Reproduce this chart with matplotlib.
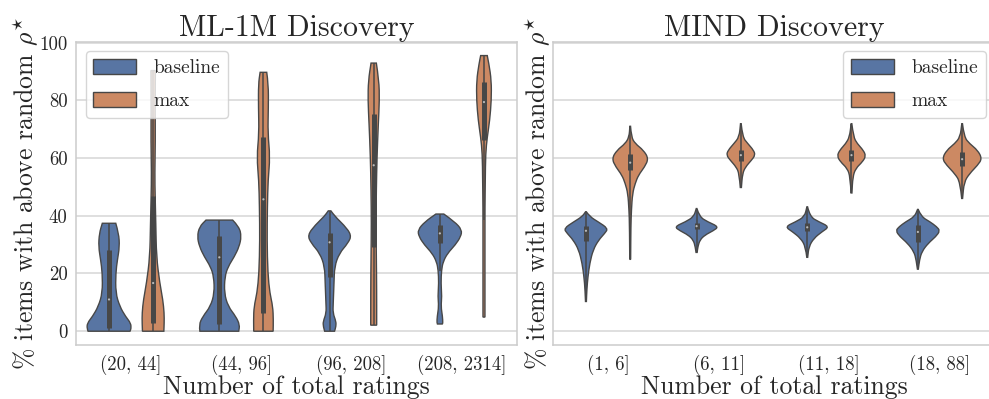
import matplotlib
matplotlib.use("Agg")
import matplotlib.pyplot as plt
from matplotlib.path import Path
from matplotlib.patches import PathPatch, Patch

plt.rcParams['font.family'] = 'serif'
plt.rcParams['font.serif'] = ['cmr10']
plt.rcParams['mathtext.fontset'] = 'cm'
plt.rcParams['axes.unicode_minus'] = False

hues = ['baseline', 'max']
ml_bins = ['(20, 44]', '(44, 96]', '(96, 208]', '(208, 2314]']
mind_bins = ['(1, 6]', '(6, 11]', '(11, 18]', '(18, 88]']

# violin outlines: (value, half width in category units), bottom to top
ml_base_dens = [
    [(0, 0.19), (0.9, 0.2), (2.8, 0.197), (5.1, 0.15), (8.6, 0.097), (13.3, 0.06), (20.2, 0.061),
     (24.7, 0.076), (29.3, 0.095), (33.9, 0.088), (37.4, 0.061)],
    [(0, 0.176), (2.2, 0.185), (5.1, 0.15), (8.6, 0.08), (13.2, 0.045), (18.9, 0.05), (22.4, 0.08),
     (25.8, 0.136), (29.3, 0.18), (32.8, 0.2), (36.2, 0.18), (38.5, 0.121)],
    [(0, 0.045), (1.7, 0.058), (3.4, 0.058), (6.3, 0.03), (9.7, 0.033), (16.6, 0.04), (22.4, 0.045),
     (27, 0.088), (30.5, 0.167), (33.3, 0.2), (36.8, 0.13), (39.7, 0.05), (41.7, 0.012)],
    [(2.5, 0.022), (2.8, 0.027), (5.1, 0.024), (8.6, 0.01), (12, 0.018), (16.6, 0.01), (21.2, 0.015),
     (24.1, 0.03), (27, 0.07), (29.9, 0.14), (32.8, 0.19), (35.1, 0.2), (37.9, 0.136), (40.6, 0.036)],
]
ml_max_dens = [
    [(0, 0.097), (2.8, 0.1), (6.3, 0.1), (10.9, 0.088), (16.7, 0.06), (25.8, 0.03), (37.4, 0.024),
     (47, 0.018), (54.6, 0.015), (66, 0.02), (77.6, 0.018), (90.3, 0.02)],
    [(0, 0.088), (4, 0.09), (8.6, 0.085), (13.2, 0.058), (20.1, 0.04), (31.6, 0.033), (43.1, 0.036),
     (52.3, 0.042), (60.4, 0.06), (68.5, 0.04), (77.6, 0.045), (85.7, 0.045), (89.7, 0.03)],
    [(2.1, 0.027), (14.3, 0.027), (25.8, 0.024), (37.4, 0.021), (48.9, 0.024), (60.4, 0.03),
     (71.9, 0.042), (80, 0.052), (86.9, 0.048), (92.9, 0.024)],
    [(4.9, 0.009), (20.1, 0.009), (31.6, 0.009), (43.1, 0.009), (52.3, 0.012), (61.6, 0.015),
     (67.3, 0.03), (73, 0.052), (80, 0.067), (86.9, 0.067), (92.6, 0.045), (95.5, 0.03)],
]
mind_base_dens = [
    [(10.3, 0.004), (14.3, 0.008), (18.9, 0.018), (23.6, 0.035), (28.2, 0.065), (31.6, 0.115),
     (33.9, 0.17), (35.6, 0.2), (37.9, 0.11), (39.7, 0.035), (41.4, 0.003)],
    [(27.3, 0.005), (29.3, 0.012), (31.6, 0.03), (33.3, 0.075), (34.8, 0.15), (36.2, 0.2),
     (37.9, 0.1), (39.7, 0.025), (42.5, 0.003)],
    [(25.6, 0.004), (29.3, 0.015), (32.2, 0.06), (34.5, 0.135), (36.2, 0.2), (37.9, 0.105),
     (39.7, 0.024), (43.1, 0.003)],
    [(21.5, 0.004), (24.7, 0.015), (27.6, 0.036), (30.5, 0.094), (32.8, 0.163), (34.8, 0.2),
     (36.2, 0.17), (37.9, 0.11), (39.7, 0.03), (42.2, 0.003)],
]
mind_max_dens = [
    [(24.9, 0.004), (36.2, 0.006), (42, 0.011), (47.7, 0.021), (51.2, 0.045), (54.1, 0.075),
     (56.9, 0.13), (59.8, 0.166), (62.7, 0.12), (65, 0.045), (67.3, 0.01), (71, 0.003)],
    [(49.8, 0.005), (54.6, 0.015), (56.9, 0.042), (59.2, 0.095), (61, 0.13), (62.7, 0.115),
     (65, 0.063), (67.3, 0.015), (71.9, 0.003)],
    [(47.9, 0.004), (53.5, 0.012), (56.4, 0.038), (58.7, 0.1), (60.7, 0.13), (62.7, 0.107),
     (65, 0.052), (67.3, 0.018), (71.9, 0.003)],
    [(46, 0.004), (51.7, 0.018), (54.6, 0.067), (57.5, 0.14), (59.8, 0.18), (62.7, 0.14),
     (65, 0.067), (67.3, 0.018), (71.9, 0.003)],
]

# inner boxes: (q1, median, q3, whisker low, whisker high)
ml_base_box = [(1, 11, 28.2, 0, 37.4), (2.5, 25.6, 33, 0, 38.5),
               (18.7, 30.8, 34.1, 0, 41.7), (30.5, 33.9, 36.8, 21, 40.6)]
ml_max_box = [(3, 16.7, 47, 0, 90.3), (6.3, 45.7, 67.3, 0, 89.7),
              (29.1, 57.5, 75.1, 2.1, 92.9), (66.1, 79.4, 86.3, 38.5, 95.5)]
mind_base_box = [(31.4, 34.8, 36.4, 10.3, 41.4), (35.3, 36.4, 37.6, 27.3, 42.5),
                 (34.8, 36, 37.4, 25.6, 43.1), (31, 34.4, 36.8, 21.5, 42.2)]
mind_max_box = [(56, 58.4, 61.3, 24.9, 71), (59, 61, 62.9, 49.8, 71.9),
                (59, 61, 62.9, 47.9, 71.9), (57.2, 59.6, 62.1, 46, 71.9)]

colors = ['#5875A3', '#CC8963']
gray = '#474747'
light = '#d9d9d9'
text_col = '#262626'


def side_curve(pts, verts, codes, first):
    # smooth quadratic curve through the outline points
    verts.append(pts[0])
    codes.append(Path.MOVETO if first else Path.LINETO)
    if len(pts) > 2:
        verts.append(((pts[0][0] + pts[1][0]) / 2, (pts[0][1] + pts[1][1]) / 2))
        codes.append(Path.LINETO)
        for i in range(1, len(pts) - 1):
            nxt = pts[i + 1]
            mid = ((pts[i][0] + nxt[0]) / 2, (pts[i][1] + nxt[1]) / 2)
            if i == len(pts) - 2:
                mid = nxt
            verts += [pts[i], mid]
            codes += [Path.CURVE3, Path.CURVE3]
    else:
        verts.append(pts[1])
        codes.append(Path.LINETO)


def draw_violin(ax, pos, dens, box, color):
    right = [(pos + w, y) for y, w in dens]
    left = [(pos - w, y) for y, w in reversed(dens)]
    verts, codes = [], []
    side_curve(right, verts, codes, True)
    side_curve(left, verts, codes, False)
    verts.append(right[0])
    codes.append(Path.CLOSEPOLY)
    ax.add_patch(PathPatch(Path(verts, codes), facecolor=color, edgecolor=gray, lw=1.0, zorder=2))
    q1, med, q3, lo, hi = box
    ax.vlines(pos, lo, hi, color=gray, lw=1.1, zorder=3)
    ax.vlines(pos, q1, q3, color=gray, lw=3.6, zorder=3)
    ax.scatter([pos], [med], s=2.5, color='#bbbbbb', edgecolor='none', zorder=4)


def panel(ax, title, bins, base_dens, max_dens, base_box, max_box):
    ax.set_facecolor('white')
    for i in range(len(bins)):
        draw_violin(ax, i - 0.2, base_dens[i], base_box[i], colors[0])
        draw_violin(ax, i + 0.2, max_dens[i], max_box[i], colors[1])
    ax.set_xlim(-0.5, len(bins) - 0.5)
    ax.set_ylim(-4.78, 100.28)
    ax.set_yticks([0, 20, 40, 60, 80, 100])
    ax.set_xticks(range(len(bins)))
    ax.set_xticklabels(bins)
    ax.grid(axis='y', color=light, lw=1.2, zorder=0)
    ax.set_axisbelow(True)
    for s in ax.spines.values():
        s.set_color('#cccccc')
        s.set_linewidth(1.1)
    ax.tick_params(length=0, labelsize=13.5, labelcolor=text_col)
    ax.tick_params(axis='x', pad=7)
    ax.tick_params(axis='y', pad=6)
    ax.set_title(title, fontsize=21.5, color=text_col, pad=3)
    ax.set_xlabel('Number of total ratings', fontsize=18.5, color=text_col, labelpad=0)
    ax.set_ylabel(r'% items with above random $\rho^{\star}$', fontsize=18.5, color=text_col)


fig = plt.figure(figsize=(9.89, 3.99), dpi=100)
ax1 = fig.add_axes([0.0768, 0.1353, 0.446, 0.760])
ax2 = fig.add_axes([0.5589, 0.1353, 0.4475, 0.760])

panel(ax1, 'ML-1M Discovery', ml_bins, ml_base_dens, ml_max_dens, ml_base_box, ml_max_box)
panel(ax2, 'MIND Discovery', mind_bins, mind_base_dens, mind_max_dens, mind_base_box, mind_max_box)
ax2.tick_params(axis='y', labelleft=False)
ax1.yaxis.set_label_coords(-0.082, 0.5)
ax2.yaxis.set_label_coords(-0.001, 0.5)

handles = [Patch(facecolor=c, edgecolor=gray, lw=1.0) for c in colors]
leg_kw = dict(fontsize=14, handlelength=2.2, handleheight=0.8, handletextpad=0.9,
              labelspacing=0.75, framealpha=0.8, edgecolor='#cccccc', fancybox=True)
l1 = ax1.legend(handles, hues, loc='upper left', **leg_kw)
l2 = ax2.legend(handles, hues, loc='upper right', **leg_kw)
for leg in (l1, l2):
    for t in leg.get_texts():
        t.set_color(text_col)

fig.savefig('out.png', dpi=100)
